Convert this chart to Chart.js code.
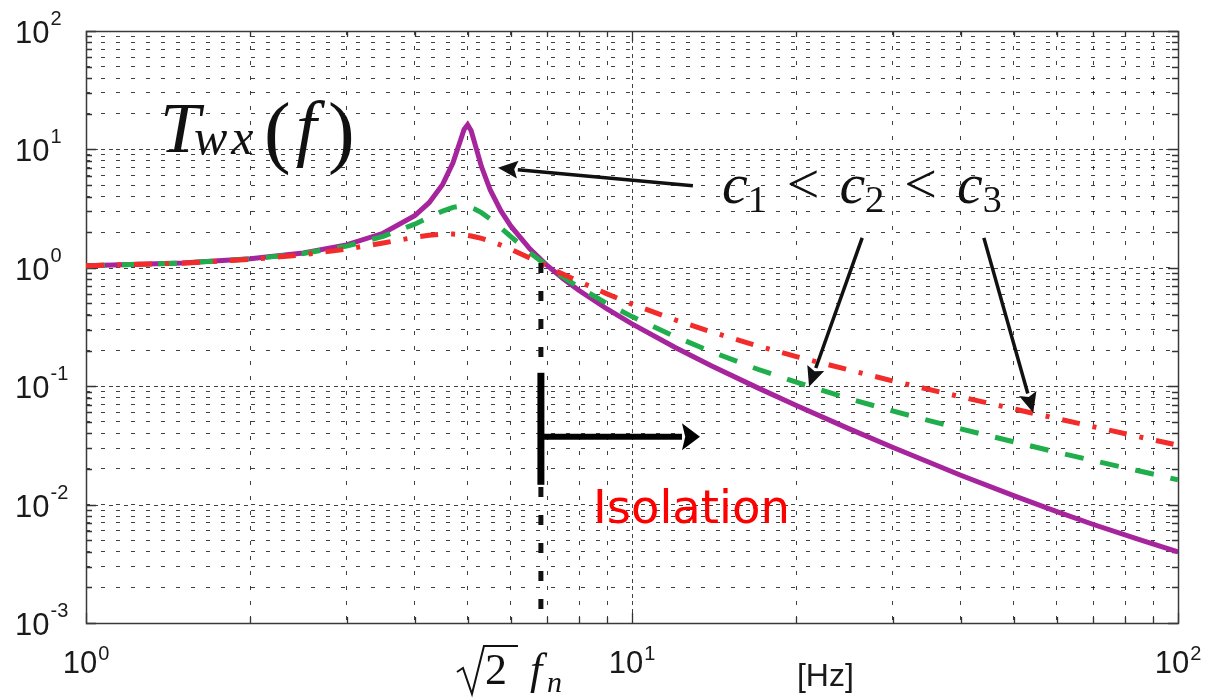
<!DOCTYPE html>
<html><head><meta charset="utf-8">
<script src="https://cdn.jsdelivr.net/npm/chart.js@4.4.1/dist/chart.umd.min.js"></script>
<style>html,body{margin:0;padding:0;background:#fff;overflow:hidden}canvas{display:block}</style>
</head><body>
<canvas id="c" width="1217" height="698"></canvas>
<script>
// ---- data (frequency in Hz, transmissibility) ----
const freq = [1,1.5,2,2.5,3,3.5,4,4.25,4.5,4.7,4.85,4.925,5,5.075,5.15,5.3,5.5,5.75,6,6.5,7,7.5,8,9,10,12,14,17,20,25,30,40,50,60,70,85,100];
const c1 = [1.042,1.099,1.190,1.333,1.561,1.956,2.755,3.545,5.058,7.695,11.88,14.74,16.16,14.35,11.36,7.159,4.540,3.035,2.247,1.444,1.041,0.801,0.643,0.449,0.336,0.212,0.148,0.0968,0.0687,0.0436,0.0305,0.0177,0.0119,0.00872,0.00679,0.00505,0.00399];
const c2 = [1.042,1.098,1.187,1.321,1.524,1.840,2.337,2.667,3.016,3.238,3.314,3.312,3.281,3.223,3.141,2.925,2.587,2.178,1.834,1.344,1.034,0.828,0.684,0.499,0.387,0.262,0.195,0.139,0.108,0.0784,0.0618,0.0436,0.0339,0.0277,0.0235,0.0192,0.0162];
const c3 = [1.041,1.095,1.176,1.289,1.438,1.621,1.808,1.881,1.922,1.926,1.909,1.894,1.876,1.854,1.829,1.771,1.680,1.557,1.433,1.207,1.023,0.878,0.765,0.602,0.494,0.363,0.287,0.219,0.178,0.137,0.111,0.0813,0.0643,0.0533,0.0455,0.0373,0.0317];
const seriesNames = ['c1','c2','c3'];
const xTickValues = [1,10,100];
const xTickExps = ['0','1','2'];
const yTickValues = [0.001,0.01,0.1,1,10,100];
const yTickExps = ['-3','-2','-1','0','1','2'];
const xAxisUnit = '[Hz]';
const isolationLabel = 'Isolation';
const fIsolation = 6.81;   // sqrt(2)*fn marker as drawn

const ctx = document.getElementById('c').getContext('2d');

function decadeTicks(min, max){
  const out=[];
  for(let e=Math.round(Math.log10(min)); e<Math.round(Math.log10(max)); e++){
    for(let s=1;s<10;s++) out.push({value: +(s*Math.pow(10,e)).toPrecision(6), major: s===1});
  }
  out.push({value:max, major:true});
  return out;
}

function arrow(g,x1,y1,x2,y2,lw,hl,hw,color){
  const a=Math.atan2(y2-y1,x2-x1);
  const bx=x2-hl*Math.cos(a), by=y2-hl*Math.sin(a);
  g.save(); g.strokeStyle=color; g.fillStyle=color; g.lineWidth=lw; g.setLineDash([]);
  g.beginPath(); g.moveTo(x1,y1); g.lineTo(bx,by); g.stroke();
  g.beginPath(); g.moveTo(x2,y2);
  g.lineTo(bx+hw/2*Math.sin(a), by-hw/2*Math.cos(a));
  g.lineTo(bx+hl*0.18*Math.cos(a), by+hl*0.18*Math.sin(a));
  g.lineTo(bx-hw/2*Math.sin(a), by+hw/2*Math.cos(a));
  g.closePath(); g.fill(); g.restore();
}

const frame = {
  id:'frame',
  beforeDatasetsDraw(chart){
    const g=chart.ctx, a=chart.chartArea, xs=chart.scales.x, ys=chart.scales.y;
    g.save();
    g.strokeStyle='rgba(0,0,0,0.75)'; g.lineWidth=1; g.setLineDash([4,11]); g.lineDashOffset=7;
    ys.ticks.forEach(t=>{ if(t.major){ const y=Math.round(ys.getPixelForValue(t.value))+0.5; g.beginPath(); g.moveTo(a.left,y); g.lineTo(a.right,y); g.stroke(); }});
    xs.ticks.forEach(t=>{ if(t.major){ const x=Math.round(xs.getPixelForValue(t.value))+0.5; g.beginPath(); g.moveTo(x,a.top); g.lineTo(x,a.bottom); g.stroke(); }});
    g.setLineDash([]); g.strokeStyle='#333'; g.lineWidth=1.3;
    xs.ticks.forEach(t=>{ const x=Math.round(xs.getPixelForValue(t.value))+0.5; const L=t.major?10:6;
      g.beginPath(); g.moveTo(x,a.bottom); g.lineTo(x,a.bottom-L); g.moveTo(x,a.top); g.lineTo(x,a.top+L); g.stroke(); });
    ys.ticks.forEach(t=>{ const y=Math.round(ys.getPixelForValue(t.value))+0.5; const L=t.major?10:6;
      g.beginPath(); g.moveTo(a.left,y); g.lineTo(a.left+L,y); g.moveTo(a.right,y); g.lineTo(a.right-L,y); g.stroke(); });
    g.strokeStyle='#3a3a3a'; g.lineWidth=1.5;
    g.strokeRect(Math.round(a.left)+0.5, Math.round(a.top)+0.5, Math.round(a.right-a.left), Math.round(a.bottom-a.top));
    g.restore();
  },
  afterDraw(chart){
    const g=chart.ctx, a=chart.chartArea, xs=chart.scales.x, ys=chart.scales.y;
    const X=v=>xs.getPixelForValue(v), Y=v=>ys.getPixelForValue(v);
    g.save();
    g.fillStyle='#1a1a1a'; g.textBaseline='alphabetic'; g.textAlign='left';
    yTickValues.forEach((v,i)=>{
      const y=Y(v);
      g.font='31px "Liberation Sans", Arial, sans-serif'; g.fillText('10',15,y+12);
      const w=g.measureText('10').width;
      g.font='20px "Liberation Sans", Arial, sans-serif'; g.fillText(yTickExps[i],15+w+1,y-6);
    });
    xTickValues.forEach((v,i)=>{
      g.font='31px "Liberation Sans", Arial, sans-serif'; const w=g.measureText('10').width;
      g.font='20px "Liberation Sans", Arial, sans-serif'; const we=g.measureText(xTickExps[i]).width;
      const x0=X(v)-(w+we+1)/2;
      g.font='31px "Liberation Sans", Arial, sans-serif'; g.fillText('10',x0,673);
      g.font='20px "Liberation Sans", Arial, sans-serif'; g.fillText(xTickExps[i],x0+w+1,660);
    });
    g.font='32px "Liberation Sans", Arial, sans-serif'; g.textAlign='center';
    g.fillText(xAxisUnit, X(22.6), 686);
    // sqrt(2) f_n label
    g.textAlign='left';
    const sx=X(4.78);
    g.strokeStyle='#111'; g.lineWidth=2;
    g.beginPath(); g.moveTo(sx,672); g.lineTo(sx+6,668); g.lineTo(sx+15,694); g.lineTo(sx+27,646); g.lineTo(sx+61,646); g.stroke();
    g.fillStyle='#111';
    g.font='44px "Liberation Serif", serif'; g.fillText('2', sx+28, 684);
    g.font='italic 44px "Liberation Serif", serif'; g.fillText('f', sx+73, 684);
    g.font='italic 30px "Liberation Serif", serif'; g.fillText('n', sx+90, 692);

    // title T_wx(f)
    const tx=X(1.366), ty=Y(9.54);
    g.fillStyle='#111';
    g.font='italic 72px "Liberation Serif", serif'; g.fillText('T',tx,ty);
    g.font='italic 50px "Liberation Serif", serif';
    g.fillText('w',tx+34,ty+2); g.fillText('x',tx+34+g.measureText('w').width+4,ty+2);
    g.font='80px "Liberation Serif", serif'; g.fillText('(',tx+104,ty+6);
    g.font='italic 74px "Liberation Serif", serif'; g.fillText('f',tx+136,ty);
    g.font='80px "Liberation Serif", serif'; g.fillText(')',tx+168,ty+6);

    // c1 < c2 < c3
    let cx=X(14.62), cy=Y(3.54);
    ['1','2','3'].forEach((d,i)=>{
      g.font='italic 58px "Liberation Serif", serif'; g.fillText('c',cx,cy); cx+=g.measureText('c').width;
      g.font='38px "Liberation Serif", serif'; g.fillText(d,cx,cy+9); cx+=g.measureText(d).width+20;
      if(i<2){ g.font='58px "Liberation Serif", serif'; g.fillText('<',cx,cy); cx+=g.measureText('<').width+20; }
    });

    arrow(g, X(12.93),Y(4.93), X(5.68),Y(6.99), 3.5, 20, 18, '#111');
    arrow(g, X(26.4),Y(1.79), X(21.1),Y(0.0988), 3.5, 20, 18, '#111');
    arrow(g, X(44.1),Y(1.79), X(54.3),Y(0.0596), 3.5, 20, 18, '#111');

    const fx=X(fIsolation);
    g.save(); g.strokeStyle='#111'; g.lineWidth=5; g.setLineDash([10,18]);
    g.beginPath(); g.moveTo(fx,Y(1.1)); g.lineTo(fx,a.bottom); g.stroke(); g.restore();
    g.save(); g.strokeStyle='#000'; g.lineWidth=7;
    g.beginPath(); g.moveTo(fx,Y(0.1298)); g.lineTo(fx,Y(0.0147)); g.stroke(); g.restore();
    arrow(g, fx, Y(0.03738), X(13.32), Y(0.03738), 6, 18, 27, '#000');

    g.fillStyle='#ff0000'; g.font='48px "DejaVu Sans", sans-serif';
    const iw=g.measureText(isolationLabel).width; const target=197;
    g.font=(48*target/iw).toFixed(1)+'px "DejaVu Sans", sans-serif';
    g.fillText(isolationLabel, X(8.483), Y(0.00702));
    g.restore();
  }
};

const colors = ['#a6249c','#1fae4b','#f22b2b'];
const dashes = [[],[19,17],[18,13,4,13]];
const series = [c1,c2,c3];

new Chart(ctx,{
  type:'line',
  data:{datasets: series.map((s,k)=>({
    label: seriesNames[k],
    data: freq.map((f,i)=>({x:f,y:s[i]})),
    borderColor: colors[k], backgroundColor: colors[k],
    borderWidth: 5, borderDash: dashes[k], pointRadius:0, tension:0, fill:false
  })).reverse()},
  options:{
    responsive:false, animation:false, devicePixelRatio:1,
    layout:{padding:{left:86,right:39,top:31,bottom:75}},
    plugins:{legend:{display:false}, tooltip:{enabled:false}},
    scales:{
      x:{type:'logarithmic', min:1, max:100,
         afterBuildTicks:s=>{s.ticks=decadeTicks(1,100);},
         ticks:{display:false}, grid:{color:'rgba(0,0,0,0.75)', lineWidth:1, drawTicks:false},
         border:{display:false, dash:[4,11]}},
      y:{type:'logarithmic', min:0.001, max:100,
         afterBuildTicks:s=>{s.ticks=decadeTicks(0.001,100);},
         ticks:{display:false}, grid:{color:'rgba(0,0,0,0.75)', lineWidth:1, drawTicks:false},
         border:{display:false, dash:[4,11]}}
    }
  },
  plugins:[frame]
});
</script>
</body></html>
